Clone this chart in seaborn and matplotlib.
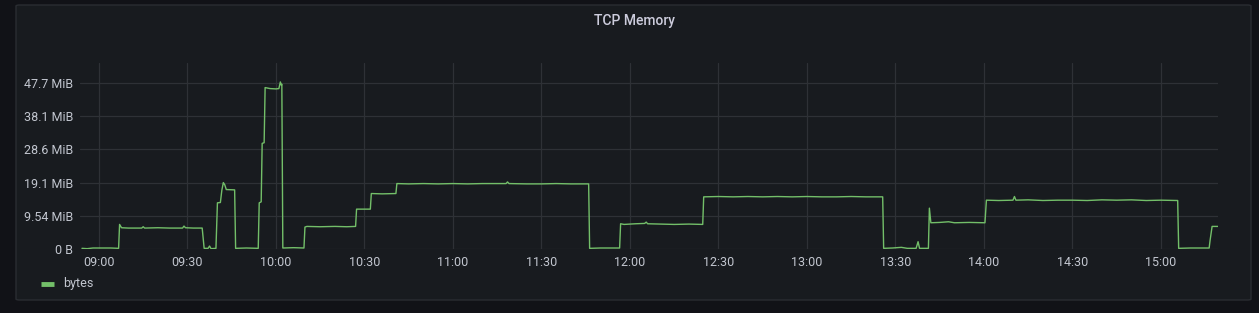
import matplotlib
matplotlib.use("Agg")
import matplotlib.pyplot as plt
from matplotlib.patches import FancyBboxPatch
from matplotlib.lines import Line2D
import pandas as pd
import seaborn as sns

# ---- data (values in MB = 1e6 bytes) ----
times = [
    "08:54:15", "08:56:00", "08:58:00", "09:01:00", "09:04:00", "09:06:40",
    "09:07:00", "09:07:40", "09:10:00", "09:14:30", "09:15:00", "09:15:30",
    "09:20:00", "09:24:00", "09:28:20", "09:28:50", "09:29:20", "09:32:00",
    "09:35:00", "09:35:40", "09:37:00", "09:37:30", "09:38:00", "09:39:40",
    "09:40:10", "09:41:10", "09:41:40", "09:42:10", "09:42:40", "09:43:10",
    "09:46:00", "09:46:20", "09:50:00", "09:54:00", "09:54:20", "09:55:00",
    "09:55:20", "09:56:00", "09:56:20", "09:58:00", "10:00:00", "10:01:00",
    "10:01:30", "10:01:50", "10:02:00", "10:02:20", "10:06:00", "10:09:30",
    "10:09:50", "10:10:30", "10:15:00", "10:20:00", "10:24:00", "10:27:00",
    "10:27:20", "10:32:00", "10:32:20", "10:36:00", "10:40:40", "10:41:00",
    "10:45:00", "10:50:00", "10:55:00", "11:00:00", "11:05:00", "11:10:00",
    "11:18:00", "11:18:30", "11:19:00", "11:25:00", "11:30:00", "11:35:00",
    "11:40:00", "11:46:00", "11:46:20", "11:50:00", "11:56:30", "11:56:50",
    "11:58:00", "12:02:00", "12:05:00", "12:05:30", "12:06:00", "12:10:00",
    "12:15:00", "12:20:00", "12:24:40", "12:25:00", "12:30:00", "12:35:00",
    "12:40:00", "12:45:00", "12:50:00", "12:55:00", "13:00:00", "13:05:00",
    "13:10:00", "13:15:00", "13:20:00", "13:25:40", "13:26:00", "13:29:00",
    "13:32:00", "13:34:00", "13:37:00", "13:37:40", "13:38:10", "13:41:10",
    "13:41:30", "13:42:00", "13:45:00", "13:48:00", "13:50:00", "13:55:00",
    "14:00:20", "14:00:50", "14:05:00", "14:09:50", "14:10:20", "14:10:50",
    "14:15:00", "14:20:00", "14:25:00", "14:30:00", "14:35:00", "14:40:00",
    "14:45:00", "14:50:00", "14:55:00", "15:00:00", "15:05:40", "15:06:00",
    "15:10:00", "15:16:20", "15:16:40", "15:17:20", "15:19:20",
]
values_mb = [
    0.2, 0.1, 0.3, 0.3, 0.3, 0.2,
    7.4, 6.4, 6.3, 6.3, 6.7, 6.3,
    6.4, 6.3, 6.3, 6.9, 6.4, 6.3,
    6.3, 0.2, 0.2, 0.9, 0.1, 0.2,
    13.9, 14.0, 17.7, 20.0, 19.3, 17.9,
    17.8, 0.2, 0.3, 0.2, 13.9, 14.2,
    31.8, 32.0, 48.6, 48.3, 48.2, 48.3,
    50.3, 49.3, 49.6, 0.3, 0.4, 0.3,
    6.6, 6.8, 6.7, 6.8, 6.7, 6.8,
    12.0, 12.0, 16.7, 16.6, 16.7, 19.7,
    19.6, 19.7, 19.6, 19.7, 19.6, 19.7,
    19.7, 20.2, 19.7, 19.6, 19.6, 19.7,
    19.6, 19.6, 0.2, 0.3, 0.3, 7.6,
    7.4, 7.6, 7.7, 8.1, 7.6, 7.5,
    7.4, 7.5, 7.4, 15.7, 15.8, 15.7,
    15.8, 15.7, 15.8, 15.7, 15.8, 15.7,
    15.7, 15.8, 15.7, 15.7, 0.2, 0.3,
    0.5, 0.2, 0.2, 2.2, 0.2, 0.2,
    12.3, 7.9, 8.0, 8.2, 7.9, 8.0,
    7.9, 14.7, 14.6, 14.7, 15.8, 14.7,
    14.8, 14.6, 14.7, 14.7, 14.6, 14.8,
    14.7, 14.8, 14.6, 14.7, 14.6, 0.2,
    0.3, 0.3, 2.7, 6.8, 6.8,
]
series_name = "bytes"
title = "TCP Memory"
ytick_mb = [0, 10, 20, 30, 40, 50]
xtick_labels = ["09:00", "09:30", "10:00", "10:30", "11:00", "11:30", "12:00",
                "12:30", "13:00", "13:30", "14:00", "14:30", "15:00"]

day = "2024-01-01 "
df = pd.DataFrame({
    "time": pd.to_datetime([day + t for t in times]),
    "bytes": [v * 1e6 for v in values_mb],
})

# ---- style ----
BG = "#111217"
PANEL = "#181b1f"
BORDER = "#2a2d32"
GRID = "#2e3136"
TEXT = "#ccccdc"
TICK = "#c2c6cf"
GREEN = "#73bf69"

sns.set_theme(style="dark")
plt.rcParams["font.family"] = ["Roboto", "DejaVu Sans"]

W, H = 1259, 313
fig = plt.figure(figsize=(W / 100, H / 100), dpi=100, facecolor=BG)

panel = FancyBboxPatch((16 / W, 1 - 300 / H), (1251 - 16) / W, (300 - 5) / H,
                       boxstyle="round,pad=0,rounding_size=0.003",
                       transform=fig.transFigure, facecolor=PANEL,
                       edgecolor=BORDER, linewidth=1, zorder=-5)
fig.patches.append(panel)

ax = fig.add_axes([80 / W, 1 - 249 / H, (1218 - 80) / W, (249 - 63) / H])
ax.set_facecolor("none")
ax.set_zorder(2)

sns.lineplot(data=df, x="time", y="bytes", ax=ax, color=GREEN, linewidth=1.0,
             legend=False)

ax.set_xlim(pd.Timestamp(day + "08:53:35"), pd.Timestamp(day + "15:19:20"))
ax.set_ylim(0, 56.0e6)

ax.set_yticks([v * 1e6 for v in ytick_mb])
ax.set_yticklabels(["0 B" if v == 0 else f"{v * 1e6 / 2**20:.3g} MiB" for v in ytick_mb])
ax.set_xticks(pd.to_datetime([day + t for t in xtick_labels]))
ax.set_xticklabels(xtick_labels)

ax.tick_params(axis="both", colors=TICK, labelsize=9, length=0)
ax.tick_params(axis="y", pad=5)
ax.tick_params(axis="x", pad=5)
ax.set_xlabel("")
ax.set_ylabel("")
for s in ax.spines.values():
    s.set_visible(False)

ax.grid(True, color=GRID, linewidth=0.9)
ax.set_axisbelow(True)

fig.text(634 / W, 1 - 21 / H, title, ha="center", va="center",
         color=TEXT, fontsize=10, fontweight="medium")

fig.lines.append(Line2D([41 / W, 54 / W], [1 - 284 / H, 1 - 284 / H],
                        transform=fig.transFigure, color=GREEN, linewidth=3.5,
                        solid_capstyle="butt"))
fig.text(63 / W, 1 - 284 / H, series_name, ha="left", va="center",
         color=TICK, fontsize=9)

fig.savefig("out.png", dpi=100, facecolor=BG)
